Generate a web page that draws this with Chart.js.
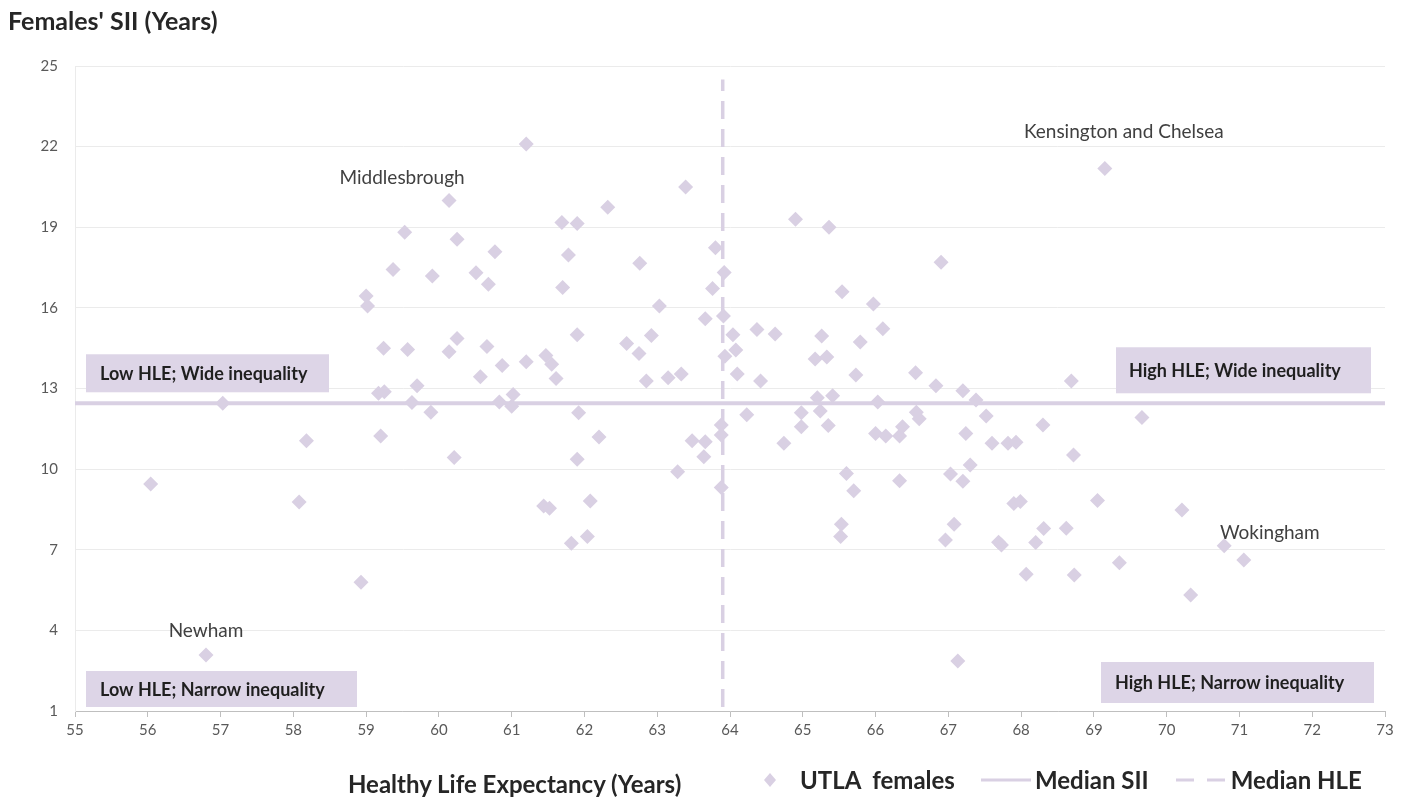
<!DOCTYPE html>
<html><head><meta charset="utf-8">
<script src="https://cdn.jsdelivr.net/npm/chart.js@4.4.0/dist/chart.umd.min.js"></script>
<style>
html,body{margin:0;padding:0;background:#fff;width:1409px;height:799px;overflow:hidden;font-family:Lato,"Open Sans",sans-serif;}
#wrap{position:relative;width:1409px;height:799px;}
#c{position:absolute;left:0;top:0;}
.t{position:absolute;font-weight:bold;color:#262626;white-space:nowrap;line-height:1;}
.lg{position:absolute;display:flex;align-items:center;}
</style></head><body>
<div id="wrap">
<canvas id="c" width="1409" height="799"></canvas>
<div class="t" style="left:8px;top:8px;font-size:25px;">Females' SII (Years)</div>
<div class="t" style="left:348px;top:772px;font-size:24px;">Healthy Life Expectancy (Years)</div>
<div class="t lg" style="left:764px;top:768px;font-size:24px;">
  <svg width="12" height="24" style="margin-right:24px"><polygon points="6,5 12,12 6,19 0,12" fill="#d9d0e3"/></svg>
  <span style="margin-right:26px">UTLA&nbsp; females</span>
  <svg width="50" height="24" style="margin-right:4px"><line x1="0" y1="12" x2="50" y2="12" stroke="#d9d0e3" stroke-width="3"/></svg>
  <span style="margin-right:27px">Median SII</span>
  <svg width="49" height="24" style="margin-right:6px"><line x1="0" y1="12" x2="49" y2="12" stroke="#d9d0e3" stroke-width="3" stroke-dasharray="18,13"/></svg>
  <span>Median HLE</span>
</div>
</div>
<script>
// Healthy life expectancy (years) for each UTLA, females
const hle = [56.04,56.80,57.03,58.08,58.18,58.93,59.00,59.02,59.17,59.25,59.20,59.24,59.37,59.53,59.57,59.63,59.70,59.89,59.91,60.14,
60.14,60.25,60.25,60.21,60.51,60.57,60.66,60.68,60.77,60.87,60.83,61.02,61.00,61.20,61.20,61.47,61.55,61.44,61.52,61.61,
61.70,61.69,61.78,61.82,61.90,61.90,61.92,61.90,62.04,62.08,62.20,62.32,62.58,62.75,62.76,62.85,62.92,63.03,63.15,63.33,
63.28,63.39,63.48,63.66,63.64,63.66,63.76,63.80,63.88,63.88,63.88,63.91,63.92,63.93,64.04,64.08,64.10,64.23,64.37,64.42,
64.62,64.74,64.90,64.98,64.98,65.17,65.20,65.24,65.26,65.33,65.35,65.36,65.41,65.52,65.53,65.54,65.60,65.70,65.73,65.79,
65.97,66.00,66.03,66.10,66.14,66.33,66.33,66.37,66.55,66.56,66.60,66.83,66.90,66.96,67.03,67.08,67.13,67.20,67.20,67.24,
67.30,67.38,67.52,67.60,67.69,67.73,67.82,67.93,67.90,67.99,68.07,68.20,68.30,68.31,68.62,68.69,68.72,68.73,69.05,69.15,
69.35,69.66,70.21,70.33,70.79,71.06];
// Slope index of inequality (years), same order
const sii = [9.45,3.08,12.45,8.78,11.06,5.79,16.44,16.07,12.82,12.88,11.23,14.50,17.43,18.81,14.45,12.48,13.10,12.12,17.19,20.00,
14.37,14.86,18.55,10.43,17.31,13.44,14.56,16.88,18.09,13.86,12.50,12.78,12.34,14.00,22.10,14.23,13.90,8.63,8.54,13.37,
16.76,19.18,17.97,7.24,19.14,15.00,12.10,10.37,7.49,8.81,11.20,19.74,14.67,14.30,17.66,13.28,14.97,16.07,13.40,13.54,
9.90,20.50,11.06,11.02,10.46,15.60,16.72,18.24,11.64,11.27,9.32,15.70,17.32,14.20,15.00,14.43,13.54,12.02,15.20,13.28,
15.03,10.96,19.30,12.10,11.58,14.10,12.66,12.16,14.95,14.17,11.62,19.00,12.73,7.49,7.95,16.60,9.84,9.20,13.50,14.73,
16.14,11.33,12.50,15.22,11.23,11.23,9.57,11.58,13.59,12.12,11.87,13.10,17.70,7.36,9.82,7.95,2.86,12.92,9.55,11.33,
10.15,12.57,11.98,10.96,7.28,7.18,10.96,11.00,8.72,8.80,6.09,7.27,11.64,7.79,7.80,13.28,10.53,6.06,8.83,21.19,
6.52,11.92,8.48,5.32,7.15,6.62];
const medianSII = 12.45;
const medianHLE = 63.9;
const xRange = [55, 73];
const yRange = [1, 25];
// Named areas (label text + the point it refers to)
const labelNames = ["Middlesbrough", "Kensington and Chelsea", "Wokingham", "Newham"];
const labelHle = [60.14, 69.15, 71.06, 56.80];
const labelSii = [20.00, 21.19, 6.62, 3.08];
const quadrantNames = ["Low HLE; Wide inequality", "Low HLE; Narrow inequality", "High HLE; Wide inequality", "High HLE; Narrow inequality"];

// ---- styling (pixel offsets only) ----
const PURPLE = '#d9d0e3';
const FONT = 'Lato, "Open Sans", sans-serif';
const labelOffsets = [[-47,-23],[19,-37],[26,-27],[0,-24]];
const quadBoxes = [
  {ax:'l', ay:'mid', x0:11, x1:254, y0:-49, y1:-11, pad:14},
  {ax:'l', ay:'b',   x0:11, x1:282, y0:-40, y1:-4,  pad:14},
  {ax:'r', ay:'mid', x0:-269, x1:-14, y0:-56, y1:-10, pad:13},
  {ax:'r', ay:'b',   x0:-284, x1:-11, y0:-49, y1:-8,  pad:14}
];

const annot = {
  id:'annot',
  beforeDatasetsDraw(chart){
    const {ctx, chartArea:ca, scales:{y}} = chart;
    const midY = y.getPixelForValue(medianSII);
    ctx.save();
    ctx.font = 'bold 18px ' + FONT;
    ctx.textBaseline = 'middle';
    quadBoxes.forEach((b,i)=>{
      const bx = b.ax==='l' ? ca.left : ca.right;
      const by = b.ay==='mid' ? midY : ca.bottom;
      const l = bx+b.x0, r = bx+b.x1, t = by+b.y0, bt = by+b.y1;
      ctx.fillStyle = '#ddd5e7';
      ctx.fillRect(l,t,r-l,bt-t);
      ctx.fillStyle = '#1f1f1f';
      ctx.fillText(quadrantNames[i], l+b.pad, (t+bt)/2+1);
    });
    ctx.restore();
  },
  afterDatasetsDraw(chart){
    const {ctx, scales:{x,y}} = chart;
    ctx.save();
    ctx.font = '19px ' + FONT;
    ctx.fillStyle = '#404040';
    ctx.textAlign = 'center';
    ctx.textBaseline = 'middle';
    labelNames.forEach((n,i)=>{
      const px = x.getPixelForValue(labelHle[i]) + labelOffsets[i][0];
      const py = y.getPixelForValue(labelSii[i]) + labelOffsets[i][1];
      ctx.fillText(n, px, py);
    });
    ctx.restore();
  }
};

new Chart(document.getElementById('c'), {
  type:'scatter',
  data:{datasets:[
    {label:'UTLA  females', data: hle.map((v,i)=>({x:v,y:sii[i]})), pointStyle:'rectRot', pointRadius:7.5, pointHoverRadius:7.5,
     backgroundColor:PURPLE, borderColor:PURPLE, borderWidth:0},
    {label:'Median SII', data:[{x:xRange[0],y:medianSII},{x:xRange[1],y:medianSII}], showLine:true, borderColor:PURPLE, borderWidth:4, pointRadius:0},
    {label:'Median HLE', data:[{x:medianHLE,y:yRange[0]+0.15},{x:medianHLE,y:yRange[1]-0.5}], showLine:true, borderColor:PURPLE, borderWidth:3.5, borderDash:[18,10], pointRadius:0}
  ]},
  options:{
    responsive:false, animation:false,
    layout:{padding:{left:0,right:24,top:66,bottom:0}},
    plugins:{legend:{display:false}, tooltip:{enabled:false}},
    scales:{
      x:{type:'linear', min:xRange[0], max:xRange[1],
         ticks:{stepSize:1, color:'#595959', font:{size:15, family:FONT}, padding:4},
         grid:{drawOnChartArea:false, drawTicks:true, tickLength:6, color:'#bfbfbf'},
         border:{color:'#bfbfbf'},
         afterFit(s){ s.height = 88; }},
      y:{type:'linear', min:yRange[0], max:yRange[1],
         ticks:{stepSize:3, color:'#595959', font:{size:15, family:FONT}, padding:17},
         grid:{color:'#ebebeb', drawTicks:false},
         border:{color:'#ebebeb'},
         afterFit(s){ s.width = 75; }}
    }
  },
  plugins:[annot]
});
</script>
</body></html>
